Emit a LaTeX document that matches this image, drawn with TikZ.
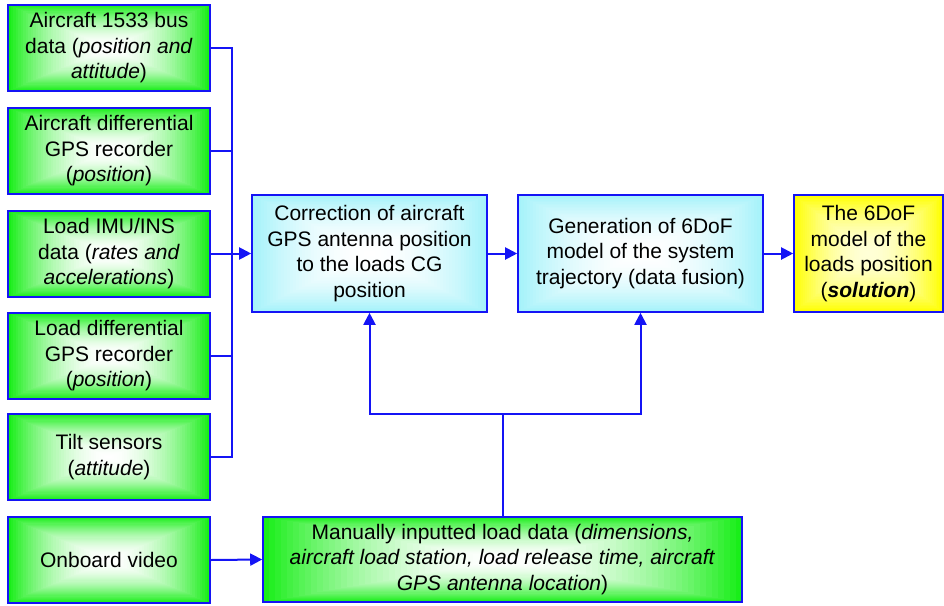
\documentclass[tikz,border=0pt]{standalone}
\usepackage{fontspec}
\setmainfont{Liberation Sans}
\usetikzlibrary{arrows.meta,calc}
\definecolor{mygreen}{RGB}{25,238,25}
\definecolor{mycyan}{RGB}{165,242,250}
\definecolor{myyellow}{RGB}{255,255,0}
\definecolor{ylight}{RGB}{255,255,215}
\definecolor{myblue}{RGB}{20,20,245}
\tikzset{
  rectgrad/.style 2 args={path picture={
    \foreach \k in {0,...,39}{
      \pgfmathsetmacro\f{1-\k/40}
      \pgfmathsetmacro\p{100*(\f)^1.9}
      \fill[#1!\p!#2] ($(path picture bounding box.center)!\f!(path picture bounding box.south west)$) rectangle ($(path picture bounding box.center)!\f!(path picture bounding box.north east)$);
    }}},
  box/.style={draw=myblue, line width=1.6pt, align=center, inner sep=2pt,
    font=\fontsize{21}{25.5}\selectfont},
  gbox/.style={box, rectgrad={mygreen}{white}, minimum width=202pt, minimum height=86pt},
  cbox/.style={box, rectgrad={mycyan}{white}, minimum height=117pt},
  ybox/.style={box, rectgrad={myyellow}{ylight}, minimum height=117pt},
  conn/.style={draw=myblue, line width=2pt},
  tip/.tip={Triangle[length=12pt,width=12pt]},
  arr/.style={conn, -tip},
}
\begin{document}
\begin{tikzpicture}[x=1pt,y=1pt]
\useasboundingbox (0,-605) rectangle (944,0);
\node[gbox] (b1) at (109,-48) {Aircraft 1533 bus\\data (\textit{position and}\\\textit{attitude})};
\node[gbox] (b2) at (109,-151) {Aircraft differential\\GPS recorder\\(\textit{position})};
\node[gbox] (b3) at (109,-254) {Load IMU/INS\\data (\textit{rates and}\\\textit{accelerations})};
\node[gbox] (b4) at (109,-356) {Load differential\\GPS recorder\\(\textit{position})};
\node[gbox] (b5) at (109,-457) {Tilt sensors\\(\textit{attitude})};
\node[gbox] (b6) at (109,-560) {Onboard video};
\node[cbox, minimum width=235pt] (corr) at (369.5,-253.5) {Correction of aircraft\\GPS antenna position\\to the loads CG\\position};
\node[cbox, minimum width=245pt] (gen) at (640.5,-253.5) {Generation of 6DoF\\model of the system\\trajectory (data fusion)};
\node[ybox, minimum width=149pt] (sol) at (868.5,-253.5) {The 6DoF\\model of the\\loads position\\(\textbf{\textit{solution}})};
\node[gbox, minimum width=479pt, minimum height=85pt] (man) at (502.5,-559.5) {Manually inputted load data (\textit{dimensions,}\\\textit{aircraft load station, load release time, aircraft}\\\textit{GPS antenna location})};
\coordinate (bt) at (232,-48);
\coordinate (bb) at (232,-457);
\coordinate (j) at (502.5,-414);
\draw[conn] (b1.east) -| (bb) -- (b5.east);
\draw[conn] (b2.east) -- (b2.east -| bt);
\draw[conn] (b3.east) -- (b3.east -| bt);
\draw[conn] (b4.east) -- (b4.east -| bt);
\draw[arr] (corr.west -| bt) -- (corr.west);
\draw[arr] (corr.east) -- (gen.west);
\draw[arr] (gen.east) -- (sol.west);
\draw[arr] (b6.east) -- (man.west);
\draw[conn, tip-tip] (corr.south) |- (j) -| (gen.south);
\draw[conn] (man.north) -- (j);
\end{tikzpicture}
\end{document}
